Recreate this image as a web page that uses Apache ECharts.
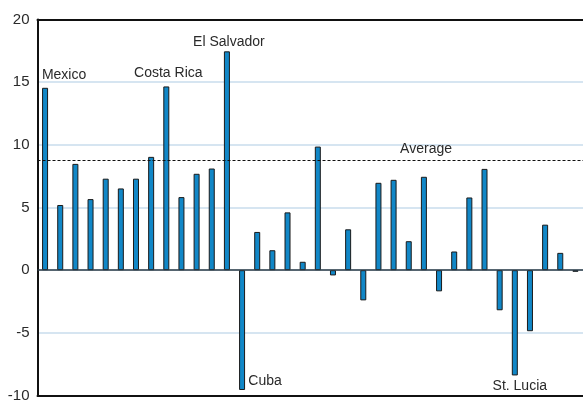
<!DOCTYPE html>
<html>
<head>
<meta charset="utf-8">
<script src="https://cdn.jsdelivr.net/npm/echarts@6/dist/echarts.min.js"></script>
<style>
  html, body { margin: 0; padding: 0; background: #fff; }
  #chart { width: 583px; height: 403px; }
</style>
</head>
<body>
<div id="chart"></div>
<script>
// countries (only the labelled ones are named in the picture)
var categories = ['Mexico', 'c2', 'c3', 'c4', 'c5', 'c6', 'c7', 'c8', 'Costa Rica', 'c10', 'c11', 'c12',
  'El Salvador', 'Cuba', 'c15', 'c16', 'c17', 'c18', 'c19', 'c20', 'c21', 'c22', 'c23', 'c24',
  'c25', 'c26', 'c27', 'c28', 'c29', 'c30', 'c31', 'St. Lucia', 'c33', 'c34', 'c35', 'c36'];
var values = [14.55, 5.2, 8.48, 5.67, 7.3, 6.52, 7.3, 9.04, 14.66, 5.83, 7.69, 8.11,
  17.46, -9.56, 3.05, 1.59, 4.61, 0.67, 9.86, -0.42, 3.26, -2.41, 6.97, 7.21,
  2.31, 7.45, -1.69, 1.49, 5.8, 8.08, -3.2, -8.4, -4.87, 3.63, 1.38, -0.13];
var average = 8.74;
var yTicks = [-10, -5, 0, 5, 10, 15, 20];

// which bars carry a name label, and where
var labelled = {
  'Mexico': { position: 'top', offset: [19, -2] },
  'Costa Rica': { position: 'top', offset: [2, -2] },
  'El Salvador': { position: 'top', offset: [2, 2] },
  'Cuba': { position: 'bottom', offset: [23, -20] },
  'St. Lucia': { position: 'bottom', offset: [5, 0] }
};

var fontFamily = 'Liberation Sans, Arial, sans-serif';

var barData = values.map(function (v, i) {
  var name = categories[i];
  var item = { value: v };
  if (labelled[name]) {
    item.label = {
      show: true,
      formatter: name,
      position: labelled[name].position,
      offset: labelled[name].offset,
      distance: 4,
      color: '#2a2a2a',
      fontSize: 14,
      fontFamily: fontFamily
    };
  }
  return item;
});

var myChart = echarts.init(document.getElementById('chart'));
myChart.setOption({
  animation: false,
  backgroundColor: '#fff',
  grid: { left: 37.5, top: 19.5, width: 547.5, height: 377 },
  xAxis: [{
    type: 'category',
    data: categories,
    position: 'bottom',
    axisLine: { onZero: false, lineStyle: { color: '#111', width: 2 } },
    axisTick: { show: false },
    axisLabel: { show: false },
    splitLine: { show: false }
  }, {
    type: 'category',
    data: categories,
    position: 'top',
    axisLine: { onZero: false, lineStyle: { color: '#111', width: 2 } },
    axisTick: { show: false },
    axisLabel: { show: false },
    splitLine: { show: false }
  }],
  yAxis: {
    type: 'value',
    min: yTicks[0],
    max: yTicks[yTicks.length - 1],
    interval: 5,
    axisLine: { show: true, lineStyle: { color: '#111', width: 2 } },
    axisTick: { show: false },
    axisLabel: { color: '#2a2a2a', fontSize: 15, fontFamily: fontFamily, margin: 8 },
    splitLine: {
      show: true,
      showMinLine: false,
      showMaxLine: false,
      lineStyle: { color: '#c9dcec', width: 1.5 }
    }
  },
  series: [{
    type: 'bar',
    data: barData,
    barWidth: 6,
    itemStyle: { color: '#1187c7', borderColor: '#1a1a1a', borderWidth: 1 },
    markLine: {
      silent: true,
      symbol: 'none',
      data: [
        {
          yAxis: 0,
          lineStyle: { color: '#2b3a44', width: 1.5, type: 'solid' },
          label: { show: false }
        },
        {
          yAxis: average,
          lineStyle: { color: '#111', width: 1.2, type: [3, 2] },
          label: {
            show: true,
            formatter: 'Average',
            position: 'insideEndTop',
            distance: [131, 4],
            color: '#2a2a2a',
            fontSize: 14,
            fontFamily: fontFamily
          }
        }
      ]
    }
  }]
});
</script>
</body>
</html>
